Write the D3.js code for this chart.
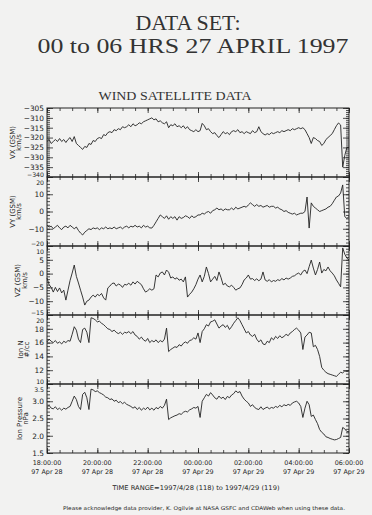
<!DOCTYPE html>
<html>
<head>
<meta charset="utf-8">
<script src="https://cdn.jsdelivr.net/npm/d3@7"></script>
<style>
  body { margin: 0; background: #f2f2f1; }
  svg { display: block; }
</style>
</head>
<body>
<svg id="chart" width="372" height="515"></svg>
<script>
// 5 minute samples, 18:00 Apr 28 -> 06:00 Apr 29 1997
var vx = [-322,-321,-323,-322,-321,-322,-320.5,-322,-321,-322.5,-321,-320,-322,-319.5,-323,-324,-325,-326,-324.5,-325,
  -323,-323.5,-321.5,-322,-320.5,-320,-320.5,-318.5,-319,-317.5,-317,-317.5,-316,-316.5,-315.5,-316,-314.5,-315,-314.5,-313.5,
  -314.5,-313,-314,-313.5,-312.5,-313,-312,-311.5,-311,-310.5,-310,-311,-310.5,-312,-311.5,-312.5,-313,-312,-315,-313.5,
  -314,-313,-314.5,-314,-315,-314,-315.5,-314.5,-316,-316.5,-317,-316,-317,-316.5,-312.8,-314,-316,-315.5,-317,-318,
  -317.5,-319,-320,-318.5,-317,-318,-317.5,-318.5,-317,-316.5,-317,-316,-317.5,-317,-318,-317,-317.5,-318,-316.5,-317.5,
  -317,-314.5,-317,-318,-318.7,-318,-318.5,-317.5,-318,-317.5,-317,-317.5,-316.5,-317,-316.5,-316,-316.5,-315.5,-316,-315.5,
  -315,-315.5,-315,-316,-318,-320,-323,-320,-320.5,-321.5,-322,-324,-323,-321,-320,-319,-318,-316,-314,-312.6,
  -313.6,-335,-329,-325,-325];

var vy = [-8,-9,-8.5,-10,-9,-8,-9.5,-10.5,-9,-8.5,-9.5,-8,-9,-10,-9,-11,-12.5,-13.6,-12,-11,
  -10,-10.5,-9.5,-10,-9.5,-10.5,-9.5,-10,-9,-10,-9.5,-10,-9,-10,-9.5,-9,-10,-9,-8.5,-9.5,
  -8.5,-9,-8,-9,-8.5,-9.5,-8,-9,-8.5,-9.5,-9.6,-8,-6,-4,-2,-3,-4,-2.5,-4.5,-3,
  -4,-3,-5,-3,-4,-3.5,-2.5,-3,-4,-2.5,-3.5,-3,-2,-2,-1,-1.5,-0.5,0,-1,0.5,
  1,2,1,1.5,0.5,1.5,1,1,2,1,2.5,1.5,2,2.5,3,2.5,3.8,5,4,3,
  4,3,3.5,2.5,3,3.5,2.5,3,3,2,2.5,1.5,1,0,0.5,-0.5,-1,-1.5,-1,-2,
  -1.5,-1,-1,0,8.4,-9.6,5,3,2,1,0,0.5,1,1.5,2.5,3,4.5,6.5,8.4,9,
  10.7,15.4,-3,-4,-3];

var vz = [-1.6,-4,-5,-6.7,-5,-6.5,-5.2,-7,-6,-9.6,-6,-2.5,0.2,3.1,-1,-3.4,-6,-8.5,-11.4,-10,
  -9.6,-8.5,-7.8,-8.5,-7.5,-8,-7.2,-8.8,-9.6,-5.2,-4.5,-3.6,-3.4,-4.5,-3.8,-4.1,-5,-3.9,-4.1,-3.5,
  -4.2,-3,-3.8,-2.8,-3.4,-4,-5.5,-6.7,-6.2,-5.5,-6,-5.5,-0.5,-1.2,0.2,0.6,-0.5,1.3,0.5,-1.6,
  -1.2,-2,-1.5,-2.4,-2,-3,-1.2,-8.5,-7.5,-6.7,-5.5,-4,-2,-0.5,-3,-1,2.4,0,-3,-2,
  -1,-2.5,0.6,-1.5,-4.1,-3.5,-4.5,-4.8,-4.2,-5,-6,-5.5,-5.2,-4,-2.3,-1.6,-0.5,-2,-1.8,-2.5,
  -1.9,-2.6,-2,0.6,-2.3,-2.8,-2.2,-3,-2.5,-2.8,-2.2,-2.5,-1.8,-2.3,-1.6,-2,-1.6,-1,-0.8,-0.2,
  0.2,-0.5,0.8,1.3,0,2.5,4.9,2,-0.5,1.5,4.2,0.2,1.5,1,2.4,1,0.2,-0.8,-2.3,-3.5,
  -4.8,9.3,7,5.6,4.9];

var ionN = [16.1,16.5,16.2,16.0,16.3,15.9,16.1,15.8,16.2,16.0,16.3,16.2,17.2,18.3,17.8,16.5,16.0,17.9,18.1,17.5,
  16.0,19.6,19.5,19.3,19.0,19.1,18.8,18.6,18.3,18.0,17.9,17.6,17.8,17.5,17.3,17.5,17.2,17.5,17.4,17.6,
  17.3,17.6,17.1,16.9,16.5,16.8,16.4,16.2,16.6,16.0,16.3,16.1,16.4,16.0,16.3,16.1,16.5,18.1,14.7,15.0,
  15.2,15.4,15.3,15.7,15.5,15.9,16.1,15.9,16.3,16.4,16.7,16.5,17.4,16.0,17.6,18.0,18.6,18.4,19.0,19.1,
  19.3,18.7,18.1,18.4,18.6,18.2,18.5,17.9,18.3,18.8,19.2,19.6,19.2,18.6,18.0,17.4,17.6,17.1,16.9,17.2,
  16.5,16.1,16.4,15.8,15.7,16.2,16.0,16.7,16.4,16.9,16.6,17.0,16.7,16.9,17.2,17.0,17.4,17.6,17.9,18.1,
  17.8,17.4,15.0,16.8,17.1,17.5,17.4,15.4,15.6,15.0,14.0,12.4,12.0,11.7,11.5,11.4,11.3,11.2,11.1,11.4,
  11.7,11.6,11.9,11.8,11.9];

var ionP = [2.82,2.88,2.80,2.78,2.84,2.76,2.80,2.74,2.80,2.77,2.82,2.85,3.0,3.15,3.05,2.85,2.76,3.2,3.26,3.1,
  2.76,3.35,3.33,3.28,3.3,3.25,3.22,3.18,3.12,3.1,3.05,3.07,3.0,3.03,2.96,2.99,2.93,2.97,2.91,2.88,
  2.85,2.8,2.84,2.76,2.82,2.74,2.80,2.76,2.83,2.75,2.80,2.74,2.82,2.78,2.85,2.80,2.88,3.06,2.47,2.52,
  2.55,2.58,2.6,2.64,2.62,2.68,2.71,2.69,2.75,2.78,2.82,2.80,2.85,2.53,3.0,3.1,3.2,3.15,3.25,3.18,
  3.1,3.06,3.15,3.08,3.12,3.05,3.14,3.1,3.18,3.22,3.3,3.25,3.28,3.15,3.06,3.0,2.95,2.85,2.9,2.82,
  2.78,2.76,2.84,2.76,2.8,2.83,2.78,2.82,2.8,2.85,2.82,2.88,2.84,2.9,2.87,2.91,2.88,2.95,2.98,3.0,
  2.95,2.85,2.53,2.8,3.0,2.9,2.56,2.6,2.47,2.35,2.18,2.1,2.05,1.97,1.95,1.92,1.9,1.88,1.89,1.92,
  1.95,2.24,2.2,2.12,2.12];

var timeLabels = ['18:00:00','20:00:00','22:00:00','00:00:00','02:00:00','04:00:00','06:00:00'];
var dateLabels = ['97 Apr 28','97 Apr 28','97 Apr 28','97 Apr 29','97 Apr 29','97 Apr 29','97 Apr 29'];
var yTitles = [['VX (GSM)','km/s'],['VY (GSM)','km/s'],['VZ (GSM)','km/s'],['Ion N','#/cc'],['Ion Pressure','nPa']];

var t0 = Date.UTC(1997,3,28,18), t1 = Date.UTC(1997,3,29,6);
var times = vx.map(function(d,i){ return new Date(t0 + i*5*60000); });
var tickDates = timeLabels.map(function(d,i){ return new Date(t0 + i*2*3600000); });

var L = 47, R = 349, T = 108, PH = 69;
var ink = '#232323';
var svg = d3.select('#chart');

var x = d3.scaleUtc().domain([t0, t1]).range([L, R]);

var panels = [
  {vals: vx,   dom: [-340,-305], major: 5,   minor: 1,   fmt: d3.format('d'),   tx: [15,21]},
  {vals: vy,   dom: [-20,20],    major: 10,  minor: 2,   fmt: d3.format('d'),   tx: [15,21]},
  {vals: vz,   dom: [-15,10],    major: 5,   minor: 1,   fmt: d3.format('d'),   tx: [20,27]},
  {vals: ionN, dom: [10,20],     major: 2,   minor: 0.5, fmt: d3.format('d'),   tx: [23,29]},
  {vals: ionP, dom: [1.5,3.5],   major: 0.5, minor: 0.1, fmt: d3.format('.1f'), tx: [22,28]}
];

function clean(g){
  g.select('.domain').remove();
  g.selectAll('line').attr('stroke', ink).attr('stroke-width', 0.8);
  g.selectAll('text').attr('fill', ink).attr('font-family', '"DejaVu Sans", sans-serif').attr('font-size', 7.4);
}

panels.forEach(function(p, k){
  var top = T + k*PH, bot = top + PH;
  var y = d3.scaleLinear().domain(p.dom).range([bot, top]);
  var majors = d3.range(p.dom[0], p.dom[1] + 1e-9, p.major);
  var minors = d3.range(p.dom[0], p.dom[1] + 1e-9, p.minor);
  var g = svg.append('g');

  // y ticks both sides, pointing in
  g.append('g').attr('transform','translate('+L+',0)')
    .call(d3.axisLeft(y).tickValues(minors).tickSize(-3).tickFormat(''))
    .call(clean);
  var lab = g.append('g').attr('transform','translate('+L+',0)')
    .call(d3.axisLeft(y).tickValues(majors).tickSize(-6).tickPadding(3).tickFormat(p.fmt))
    .call(clean);
  // panels share an edge: shrink the two edge labels and pull them apart
  lab.selectAll('.tick text').each(function(d){
    var t = d3.select(this);
    if (d === p.dom[0] && k < panels.length - 1) t.attr('font-size', 6.2).attr('dy', -0.3);
    else if (d === p.dom[1] && k > 0) t.attr('font-size', 6.2).attr('dy', 7);
  });
  g.append('g').attr('transform','translate('+R+',0)')
    .call(d3.axisRight(y).tickValues(minors).tickSize(-3).tickFormat(''))
    .call(clean);
  g.append('g').attr('transform','translate('+R+',0)')
    .call(d3.axisRight(y).tickValues(majors).tickSize(-6).tickFormat(''))
    .call(clean);

  // time ticks top and bottom
  [[top, d3.axisTop], [bot, d3.axisBottom]].forEach(function(a){
    g.append('g').attr('transform','translate(0,'+a[0]+')')
      .call(a[1](x).ticks(d3.utcMinute.every(30)).tickSize(-3).tickFormat(''))
      .call(clean);
    g.append('g').attr('transform','translate(0,'+a[0]+')')
      .call(a[1](x).tickValues(tickDates).tickSize(-5).tickFormat(''))
      .call(clean);
  });

  g.append('rect')
    .attr('x', L).attr('y', top).attr('width', R - L).attr('height', PH)
    .attr('fill','none').attr('stroke', ink).attr('stroke-width', 1);

  var line = d3.line()
    .x(function(d,i){ return x(times[i]); })
    .y(function(d){ return y(d); });

  g.append('path')
    .datum(p.vals)
    .attr('d', line)
    .attr('fill','none')
    .attr('stroke', ink)
    .attr('stroke-width', 0.9)
    .attr('stroke-linejoin','round');

  var cy = (top + bot) / 2;
  yTitles[k].forEach(function(s, j){
    g.append('text')
      .attr('transform','translate('+p.tx[j]+','+cy+') rotate(-90)')
      .attr('text-anchor','middle')
      .attr('font-family','"DejaVu Sans", sans-serif')
      .attr('font-size', 7)
      .attr('fill', ink)
      .text(s);
  });
});

// time labels under last panel
var bottom = T + 5*PH;
svg.append('g').selectAll('text.tl')
  .data(tickDates).enter().append('text')
  .attr('x', function(d){ return x(d); })
  .attr('y', bottom + 12)
  .attr('text-anchor','middle')
  .attr('font-family','"DejaVu Sans", sans-serif')
  .attr('font-size', 6.4)
  .attr('fill', ink)
  .text(function(d,i){ return timeLabels[i]; });
svg.append('g').selectAll('text.dl')
  .data(tickDates).enter().append('text')
  .attr('x', function(d){ return x(d); })
  .attr('y', bottom + 21)
  .attr('text-anchor','middle')
  .attr('font-family','"DejaVu Sans", sans-serif')
  .attr('font-size', 6.4)
  .attr('fill', ink)
  .text(function(d,i){ return dateLabels[i]; });

svg.append('text')
  .attr('x', 196).attr('y', 490)
  .attr('text-anchor','middle')
  .attr('font-family','"DejaVu Sans", sans-serif')
  .attr('font-size', 6.4)
  .attr('textLength', 167).attr('lengthAdjust','spacingAndGlyphs')
  .attr('fill', ink)
  .text('TIME RANGE=1997/4/28 (118) to 1997/4/29 (119)');

svg.append('text')
  .attr('x', 204).attr('y', 510)
  .attr('text-anchor','middle')
  .attr('font-family','"DejaVu Sans", sans-serif')
  .attr('font-size', 5.2)
  .attr('textLength', 282).attr('lengthAdjust','spacingAndGlyphs')
  .attr('fill', ink)
  .text('Please acknowledge data provider, K. Ogilvie at NASA GSFC and CDAWeb when using these data.');

// titles
svg.append('text')
  .attr('x', 188).attr('y', 30)
  .attr('text-anchor','middle')
  .attr('font-family','"Liberation Serif", "DejaVu Serif", serif')
  .attr('font-size', 20)
  .attr('textLength', 105).attr('lengthAdjust','spacingAndGlyphs')
  .attr('fill', '#333')
  .text('DATA SET:');
svg.append('text')
  .attr('x', 193).attr('y', 53)
  .attr('text-anchor','middle')
  .attr('font-family','"Liberation Serif", "DejaVu Serif", serif')
  .attr('font-size', 20)
  .attr('textLength', 311).attr('lengthAdjust','spacingAndGlyphs')
  .attr('fill', '#333')
  .text('00 to 06 HRS 27 APRIL 1997');
svg.append('text')
  .attr('x', 175).attr('y', 100)
  .attr('text-anchor','middle')
  .attr('font-family','"Liberation Serif", "DejaVu Serif", serif')
  .attr('font-size', 13)
  .attr('textLength', 153).attr('lengthAdjust','spacingAndGlyphs')
  .attr('fill', '#333')
  .text('WIND SATELLITE DATA');
</script>
</body>
</html>
